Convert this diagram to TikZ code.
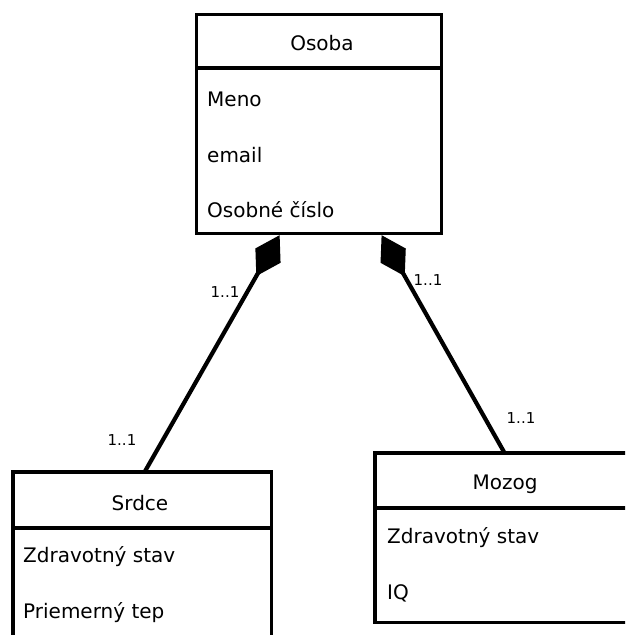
\documentclass[tikz,border=0pt]{standalone}
\usepackage{fontspec}
\setmainfont{DejaVu Sans}
\usetikzlibrary{arrows.meta}
\begin{document}
\begin{tikzpicture}[x=1pt,y=-1pt,
  classbox/.style={draw, line width=3.2pt, rectangle, anchor=north west, inner sep=0pt},
  openbox/.style={classbox, draw=none},
  border/.style={line width=3.2pt, line join=miter},
  divider/.style={line width=3.2pt},
  title/.style={font=\fontsize{20}{24}\selectfont, inner sep=0pt},
  attr/.style={font=\fontsize{20}{24}\selectfont, anchor=west, inner sep=0pt},
  mult/.style={font=\fontsize{15}{18}\selectfont, inner sep=0pt},
  composition/.style={line width=4.2pt, -{Diamond[length=47pt,width=29pt]}}
]
% canvas: fixed page, boxes that run off the page are cut
\useasboundingbox (0,0) rectangle (625,635);
\clip (0,0) rectangle (625,635);
\fill[white] (0,0) rectangle (625,635);

% classes
\node[classbox, minimum width=245pt, minimum height=219pt] (osoba) at (195,13) {};
\draw[divider] ([yshift=-55pt]osoba.north west) -- ([yshift=-55pt]osoba.north east);
\node[title] (osobaT) at (322,43) {Osoba};
\node[attr] (meno) at (207,99) {Meno};
\node[attr] (email) at (207,155) {email};
\node[attr] (cislo) at (207,210) {Osobné číslo};

\node[openbox, minimum width=255pt, minimum height=190pt] (srdce) at (13,472) {};
\draw[border] (srdce.south west) -- (srdce.north west) -- (srdce.north east) -- (srdce.south east);
\draw[divider] ([yshift=-56pt]srdce.north west) -- ([yshift=-56pt]srdce.north east);
\node[title] (srdceT) at (140,503) {Srdce};
\node[attr] (zs1) at (23,557) {Zdravotný stav};
\node[attr] (tep) at (23,613) {Priemerný tep};

\node[openbox, minimum width=275pt, minimum height=166pt] (mozog) at (375,453) {};
\draw[border] (mozog.north east) -- (mozog.north west) -- (mozog.south west) -- (mozog.south east);
\draw[divider] ([yshift=-55pt]mozog.north west) -- ([yshift=-55pt]mozog.north east);
\node[title] (mozogT) at (505,484) {Mozog};
\node[attr] (zs2) at (387,538) {Zdravotný stav};
\node[attr] (iq) at (387,593) {IQ};

% compositions
\draw[composition] ([xshift=2.5pt]srdce.north) -- ([xshift=-39.5pt]osoba.south);
\draw[composition] ([xshift=-9.5pt]mozog.north) -- ([xshift=62.5pt]osoba.south);

% multiplicities
\node[mult] (m1) at (225,292) {1..1};
\node[mult] (m2) at (122,440) {1..1};
\node[mult] (m3) at (428,280) {1..1};
\node[mult] (m4) at (521,418) {1..1};
\end{tikzpicture}
\end{document}
